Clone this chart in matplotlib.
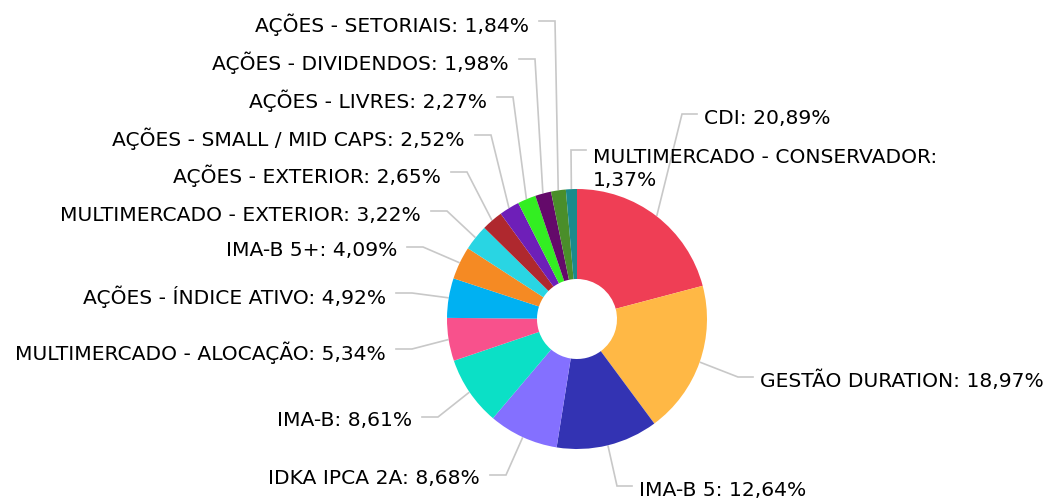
import matplotlib
matplotlib.use("Agg")
import matplotlib.pyplot as plt
import numpy as np

categories = [
    "CDI", "GESTÃO DURATION", "IMA-B 5", "IDKA IPCA 2A", "IMA-B",
    "MULTIMERCADO - ALOCAÇÃO", "AÇÕES - ÍNDICE ATIVO", "IMA-B 5+",
    "MULTIMERCADO - EXTERIOR", "AÇÕES - EXTERIOR", "AÇÕES - SMALL / MID CAPS",
    "AÇÕES - LIVRES", "AÇÕES - DIVIDENDOS", "AÇÕES - SETORIAIS",
    "MULTIMERCADO - CONSERVADOR",
]
values = [20.89, 18.97, 12.64, 8.68, 8.61, 5.34, 4.92, 4.09,
          3.22, 2.65, 2.52, 2.27, 1.98, 1.84, 1.37]
colors = ["#EF3E55", "#FFB845", "#3333B3", "#8470FF", "#0BE0C6",
          "#F8518C", "#00B1F2", "#F58A23", "#29D5E3", "#AF282E",
          "#6E1FB8", "#33EE22", "#640A6A", "#4A8E2A", "#1A8A8C"]

# layout: label elbow positions in pixel coordinates (x, y from top), side
elbows = [(682, 114, "R"), (738, 377, "R"), (617, 486, "R"), (506, 475, "L"),
          (438, 417, "L"), (412, 349, "L"), (412, 293, "L"), (423, 247, "L"),
          (447, 211, "L"), (467, 172, "L"), (491, 135, "L"), (513, 97, "L"),
          (535, 59, "L"), (555, 21, "L"), (571, 150, "R")]

W, H = 1050, 501
fig = plt.figure(figsize=(W / 100, H / 100), dpi=100)
ax = fig.add_axes([0, 0, 1, 1])

cx, cy = 577, H - 319
R, r_in = 130, 40
FS = 14.6

wedges, _ = ax.pie(values, colors=colors, startangle=90, counterclock=False,
                   center=(cx, cy), radius=R, frame=True,
                   wedgeprops=dict(width=R - r_in, linewidth=0))
ax.set_xlim(0, W)
ax.set_ylim(0, H)
ax.set_aspect("equal")
ax.axis("off")

def fmt(v):
    return f"{v:.2f}".replace(".", ",") + "%"

line_color = "#c8c8c8"
for w, cat, val, (ex, ey, side) in zip(wedges, categories, values, elbows):
    ang = np.deg2rad((w.theta1 + w.theta2) / 2)
    sx, sy = cx + (R + 1) * np.cos(ang), cy + (R + 1) * np.sin(ang)
    eyd = H - ey
    if side == "R":
        hx = ex + 15
        tx = hx + 7
        ha = "left"
    else:
        hx = ex - 16
        tx = hx - 10
        ha = "right"
    ax.plot([sx, ex, hx], [sy, eyd, eyd], color=line_color, lw=1.2,
            solid_joinstyle="miter", zorder=0)
    if cat == "MULTIMERCADO - CONSERVADOR":
        ax.text(tx, eyd - 19, f"{cat}:\n{fmt(val)}", ha=ha, va="center",
                fontsize=FS, color="#000000", linespacing=1.3)
    else:
        ax.text(tx, eyd - 4, f"{cat}: {fmt(val)}", ha=ha, va="center",
                fontsize=FS, color="#000000")

fig.savefig("out.png", dpi=100)
